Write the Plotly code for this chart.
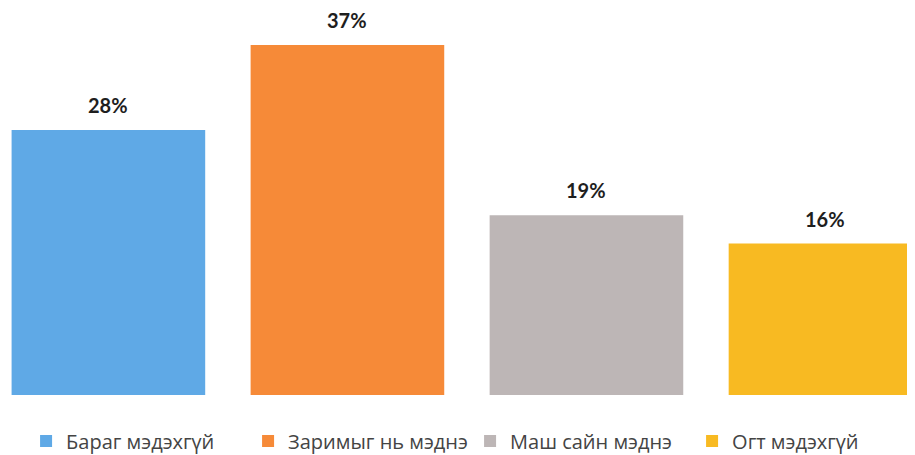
import plotly.graph_objects as go

categories = ["Бараг мэдэхгүй", "Заримыг нь мэднэ", "Маш сайн мэднэ", "Огт мэдэхгүй"]
values = [28, 37, 19, 16]
labels = ["28%", "37%", "19%", "16%"]
colors = ["#5FA9E6", "#F68A38", "#BDB6B6", "#F8BA22"]

fig = go.Figure()
for i, (cat, val, col) in enumerate(zip(categories, values, colors)):
    fig.add_trace(go.Bar(
        x=[i], y=[val], name=cat, width=0.81,
        marker=dict(color=col, line=dict(width=0)),
        hoverinfo="skip",
    ))
    fig.add_annotation(
        x=i, y=val, text="<b>%s</b>" % labels[i], showarrow=False,
        yanchor="bottom", yshift=12, borderpad=0,
        font=dict(family="Lato, Open Sans, sans-serif", size=20, color="#1e1e1e"),
    )

fig.update_layout(
    width=915, height=455,
    margin=dict(l=0, r=0, t=0, b=68),
    paper_bgcolor="white", plot_bgcolor="white",
    barmode="overlay",
    showlegend=True,
    legend=dict(
        orientation="h", x=0.505, xanchor="center", y=-0.119, yanchor="middle",
        font=dict(family="Open Sans, sans-serif", size=20, color="#444444"),
        itemwidth=30, entrywidth=177, entrywidthmode="pixels",
    ),
    xaxis=dict(range=[-0.42, 3.408], showticklabels=False, showgrid=False,
               zeroline=False, showline=False, fixedrange=True),
    yaxis=dict(range=[0, 40.9], showticklabels=False, showgrid=False,
               zeroline=False, showline=False, fixedrange=True),
)

fig.write_html("out.html")
